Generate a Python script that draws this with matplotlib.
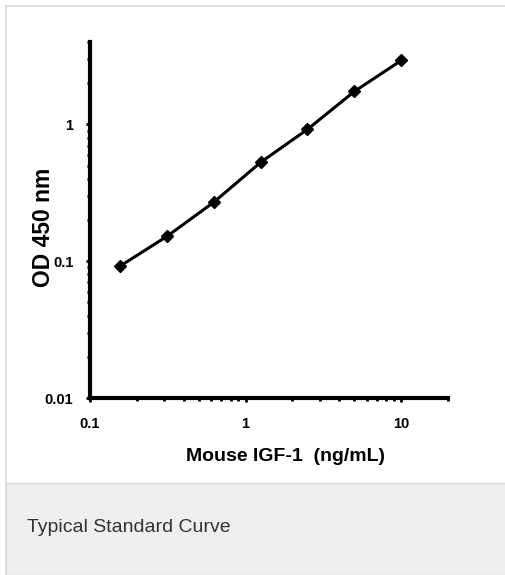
import matplotlib
matplotlib.use('Agg')
import matplotlib.pyplot as plt
from matplotlib.patches import Rectangle
from matplotlib.ticker import LogLocator, NullFormatter, FixedLocator

# Standard curve data
conc = [0.156, 0.3125, 0.625, 1.25, 2.5, 5, 10]
od = [0.092, 0.152, 0.27, 0.528, 0.92, 1.74, 2.93]

x_ticks = [0.1, 1, 10]
x_tick_labels = ['0.1', '1', '10']
y_ticks = [0.01, 0.1, 1]
y_tick_labels = ['0.01', '0.1', '1']

narrow = ['Liberation Sans Narrow', 'Liberation Sans', 'DejaVu Sans']
plain = ['Liberation Sans', 'DejaVu Sans']

fig = plt.figure(figsize=(5.05, 5.75), dpi=100)
W, H = 505, 575

# Card frame and grey caption strip (behind the axes)
fig.patches.append(Rectangle((6 / W, 0), 1, 1 - 6 / H, transform=fig.transFigure,
                             facecolor='white', edgecolor='#d9dcdb', linewidth=1.2, zorder=-2))
fig.patches.append(Rectangle((6 / W, 0), 1, (H - 483) / H, transform=fig.transFigure,
                             facecolor='#eef0ef', edgecolor='#d9dcdb', linewidth=1.0, zorder=-1))
fig.text(27 / W, 1 - 527 / H, 'Typical Standard Curve', family=plain, fontsize=14,
         color='#333333', va='center', ha='left')

ax = fig.add_axes([90 / W, 1 - 398 / H, (448 - 90) / W, (398 - 42) / H])
ax.patch.set_alpha(0)
ax.plot(conc, od, color='black', linewidth=2.2, marker='D', markersize=6)
ax.set_xscale('log')
ax.set_yscale('log')
ax.set_xlim(0.1, 20)
ax.set_ylim(0.01, 4.0)

for s in ['top', 'right']:
    ax.spines[s].set_visible(False)
for s in ['left', 'bottom']:
    ax.spines[s].set_linewidth(3)

ax.xaxis.set_major_locator(FixedLocator(x_ticks))
ax.yaxis.set_major_locator(FixedLocator(y_ticks))
ax.set_xticklabels(x_tick_labels)
ax.set_yticklabels(y_tick_labels)
ax.xaxis.set_minor_locator(LogLocator(base=10, subs=range(2, 10)))
ax.yaxis.set_minor_locator(LogLocator(base=10, subs=range(2, 10)))
ax.xaxis.set_minor_formatter(NullFormatter())
ax.yaxis.set_minor_formatter(NullFormatter())
ax.tick_params(which='major', direction='out', length=3, width=2)
ax.tick_params(which='minor', direction='out', length=2.5, width=2)
ax.tick_params(axis='x', which='major', pad=11)
ax.tick_params(axis='y', which='major', pad=9)

for lab in ax.get_xticklabels() + ax.get_yticklabels():
    lab.set_family(narrow)
    lab.set_fontsize(10.5)
    lab.set_fontweight('bold')

ax.set_xlabel('Mouse IGF-1  (ng/mL)', family=narrow, fontsize=14, fontweight='bold')
ax.xaxis.set_label_coords(0.545, -0.163)
ax.xaxis.label.set_va('center')
ax.set_ylabel('OD 450 nm', family=plain, fontsize=16.5, fontweight='bold')
ax.yaxis.set_label_coords(-0.13, 0.478)
ax.yaxis.label.set_va('center')

fig.savefig('out.png', dpi=100)
